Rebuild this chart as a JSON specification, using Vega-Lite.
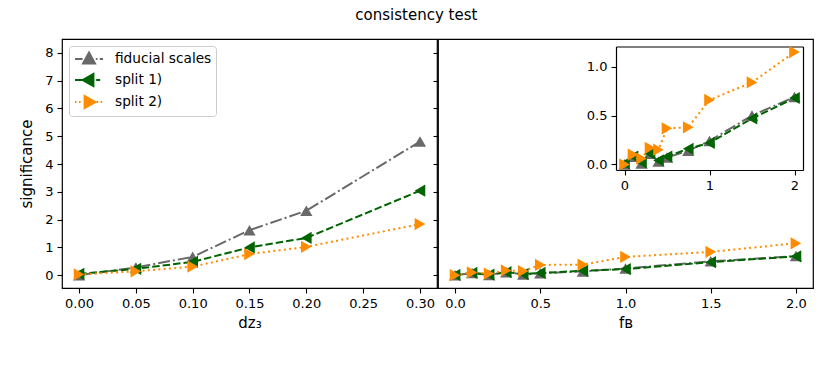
{
  "$schema": "https://vega.github.io/schema/vega-lite/v6.json",
  "padding": {"left": 19, "top": 8, "right": 5, "bottom": 5},
  "title": {"text": "consistency test", "fontSize": 15, "fontWeight": "normal", "font": "DejaVu Sans", "anchor": "middle", "offset": 15, "color": "black"},
  "config": {
    "font": "DejaVu Sans",
    "view": {"stroke": "black", "strokeWidth": 1.2},
    "axis": {"domain": false, "grid": false, "tickColor": "black", "tickSize": 5, "tickWidth": 1.1, "labelFontSize": 13, "labelColor": "black", "titleFontSize": 15, "titleFontWeight": "normal", "titleColor": "black", "labelPadding": 4}
  },
  "datasets": {
    "c": [
      {"series": "fiducial scales", "x": 0.0, "y": 0.0},
      {"series": "fiducial scales", "x": 0.05, "y": 0.28},
      {"series": "fiducial scales", "x": 0.1, "y": 0.66},
      {"series": "fiducial scales", "x": 0.15, "y": 1.62},
      {"series": "fiducial scales", "x": 0.2, "y": 2.32},
      {"series": "fiducial scales", "x": 0.3, "y": 4.81},
      {"series": "split 1)", "x": 0.0, "y": 0.05},
      {"series": "split 1)", "x": 0.05, "y": 0.23},
      {"series": "split 1)", "x": 0.1, "y": 0.48},
      {"series": "split 1)", "x": 0.15, "y": 1.0},
      {"series": "split 1)", "x": 0.2, "y": 1.34},
      {"series": "split 1)", "x": 0.3, "y": 3.04},
      {"series": "split 2)", "x": 0.0, "y": 0.03},
      {"series": "split 2)", "x": 0.05, "y": 0.14},
      {"series": "split 2)", "x": 0.1, "y": 0.31},
      {"series": "split 2)", "x": 0.15, "y": 0.76},
      {"series": "split 2)", "x": 0.2, "y": 1.02},
      {"series": "split 2)", "x": 0.3, "y": 1.84}
    ],
    "d": [
      {"series": "fiducial scales", "x": 0.0, "y": 0.0},
      {"series": "fiducial scales", "x": 0.1, "y": 0.08},
      {"series": "fiducial scales", "x": 0.2, "y": 0.01},
      {"series": "fiducial scales", "x": 0.3, "y": 0.11},
      {"series": "fiducial scales", "x": 0.4, "y": 0.03},
      {"series": "fiducial scales", "x": 0.5, "y": 0.07},
      {"series": "fiducial scales", "x": 0.75, "y": 0.14},
      {"series": "fiducial scales", "x": 1.0, "y": 0.24},
      {"series": "fiducial scales", "x": 1.5, "y": 0.5},
      {"series": "fiducial scales", "x": 2.0, "y": 0.69},
      {"series": "split 1)", "x": 0.0, "y": 0.01},
      {"series": "split 1)", "x": 0.1, "y": 0.08},
      {"series": "split 1)", "x": 0.2, "y": 0.02},
      {"series": "split 1)", "x": 0.3, "y": 0.11},
      {"series": "split 1)", "x": 0.4, "y": 0.04},
      {"series": "split 1)", "x": 0.5, "y": 0.08},
      {"series": "split 1)", "x": 0.75, "y": 0.16},
      {"series": "split 1)", "x": 1.0, "y": 0.22},
      {"series": "split 1)", "x": 1.5, "y": 0.47},
      {"series": "split 1)", "x": 2.0, "y": 0.68},
      {"series": "split 2)", "x": 0.0, "y": 0.0},
      {"series": "split 2)", "x": 0.1, "y": 0.1},
      {"series": "split 2)", "x": 0.2, "y": 0.06},
      {"series": "split 2)", "x": 0.3, "y": 0.17},
      {"series": "split 2)", "x": 0.4, "y": 0.15},
      {"series": "split 2)", "x": 0.5, "y": 0.37},
      {"series": "split 2)", "x": 0.75, "y": 0.38},
      {"series": "split 2)", "x": 1.0, "y": 0.66},
      {"series": "split 2)", "x": 1.5, "y": 0.84},
      {"series": "split 2)", "x": 2.0, "y": 1.15}
    ]
  },
  "spacing": -7,
  "resolve": {"scale": {"color": "independent", "shape": "independent", "strokeDash": "independent"}},
  "hconcat": [
    {
      "width": 375,
      "height": 249,
      "data": {"name": "c"},
      "encoding": {
        "x": {"field": "x", "type": "quantitative", "scale": {"domain": [-0.015, 0.315], "nice": false, "zero": false}, "axis": {"values": [0, 0.05, 0.1, 0.15, 0.2, 0.25, 0.3], "format": ".2f", "title": "dz₃", "titlePadding": 5}},
        "y": {"field": "y", "type": "quantitative", "scale": {"domain": [-0.46, 8.5], "nice": false, "zero": false}, "axis": {"values": [0, 1, 2, 3, 4, 5, 6, 7, 8], "title": "significance", "titlePadding": 10}},
        "color": {"field": "series", "type": "nominal", "scale": {"domain": ["fiducial scales", "split 1)", "split 2)"], "range": ["#696969", "#006400", "#ff8c00"]}, "legend": null}
      },
      "resolve": {"scale": {"shape": "independent", "fill": "independent", "stroke": "independent"}},
      "layer": [
        {"mark": {"type": "line", "strokeWidth": 2}, "encoding": {"strokeDash": {"field": "series", "type": "nominal", "scale": {"domain": ["fiducial scales", "split 1)", "split 2)"], "range": [[12, 3, 2, 3], [7.5, 3], [2, 3.3]]}, "legend": null}}},
        {"mark": {"type": "point", "filled": true, "size": 150, "opacity": 1}, "encoding": {"shape": {"field": "series", "type": "nominal", "scale": {"domain": ["fiducial scales", "split 1)", "split 2)"], "range": ["triangle-up", "triangle-left", "triangle-right"]}, "legend": null}}},
        {"data": {"values": [{"label": "c)"}]}, "mark": {"type": "text", "fontSize": 14, "align": "center", "baseline": "middle"}, "encoding": {"x": {"datum": 0.2646}, "y": {"datum": 7.35}, "text": {"field": "label"}, "color": {"value": "black"}}},
        {
          "transform": [{"filter": "datum.x > 10"}],
          "mark": {"type": "point", "filled": true, "opacity": 1, "size": 256},
          "encoding": {
            "shape": {"field": "series", "type": "nominal", "scale": {"domain": ["fiducial scales", "split 1)", "split 2)"], "range": ["M-1.75,0H-0.8M0.85,0H1.05M1.35,0H1.75M0,-0.8L0.75,0.55L-0.75,0.55Z", "M-1.75,0H-0.7M0.9,0H1.4M-0.8,0L0.55,-0.75L0.55,0.75Z", "M-1.75,0H-1.55M-1.25,0H-1.05M0.95,0H1.15M1.45,0H1.65M0.8,0L-0.55,-0.75L-0.55,0.75Z"]},
              "legend": {"title": null, "orient": "top-left", "offset": 7, "labelFontSize": 13.7, "labelColor": "black", "symbolSize": 256, "symbolOffset": 7, "labelOffset": 17, "rowPadding": 2, "padding": 4, "strokeColor": "#cccccc", "fillColor": "white", "cornerRadius": 3, "symbolStrokeWidth": 2, "symbolOpacity": 1}},
            "fill": {"field": "series", "type": "nominal", "scale": {"domain": ["fiducial scales", "split 1)", "split 2)"], "range": ["#696969", "#006400", "#ff8c00"]},
              "legend": {"title": null, "orient": "top-left", "offset": 7, "labelFontSize": 13.7, "labelColor": "black", "symbolSize": 256, "symbolOffset": 7, "labelOffset": 17, "rowPadding": 2, "padding": 4, "strokeColor": "#cccccc", "fillColor": "white", "cornerRadius": 3, "symbolStrokeWidth": 2, "symbolOpacity": 1}},
            "stroke": {"field": "series", "type": "nominal", "scale": {"domain": ["fiducial scales", "split 1)", "split 2)"], "range": ["#696969", "#006400", "#ff8c00"]},
              "legend": {"title": null, "orient": "top-left", "offset": 7, "labelFontSize": 13.7, "labelColor": "black", "symbolSize": 256, "symbolOffset": 7, "labelOffset": 17, "rowPadding": 2, "padding": 4, "strokeColor": "#cccccc", "fillColor": "white", "cornerRadius": 3, "symbolStrokeWidth": 2, "symbolOpacity": 1}}
          }
        }
      ]
    },
    {
      "width": 375,
      "height": 249,
      "data": {"name": "d"},
      "resolve": {"scale": {"x": "independent", "y": "independent"}, "axis": {"x": "independent", "y": "independent"}},
      "layer": [
        {
          "encoding": {
            "x": {"field": "x", "type": "quantitative", "scale": {"domain": [-0.1, 2.1], "nice": false, "zero": false}, "axis": {"orient": "bottom", "values": [0, 0.5, 1, 1.5, 2], "format": ".1f", "title": "fʙ", "titlePadding": 5}},
            "y": {"field": "y", "type": "quantitative", "scale": {"domain": [-0.46, 8.5], "nice": false, "zero": false}, "axis": {"orient": "left", "values": [0, 1, 2, 3, 4, 5, 6, 7, 8], "labels": false, "title": null}},
            "color": {"field": "series", "type": "nominal", "scale": {"domain": ["fiducial scales", "split 1)", "split 2)"], "range": ["#696969", "#006400", "#ff8c00"]}, "legend": null}
          },
          "layer": [
            {"mark": {"type": "line", "strokeWidth": 2}, "encoding": {"strokeDash": {"field": "series", "type": "nominal", "scale": {"domain": ["fiducial scales", "split 1)", "split 2)"], "range": [[12, 3, 2, 3], [7.5, 3], [2, 3.3]]}, "legend": null}}},
            {"mark": {"type": "point", "filled": true, "size": 150, "opacity": 1}, "encoding": {"shape": {"field": "series", "type": "nominal", "scale": {"domain": ["fiducial scales", "split 1)", "split 2)"], "range": ["triangle-up", "triangle-left", "triangle-right"]}, "legend": null}}},
            {"data": {"values": [{"label": "d)"}]}, "mark": {"type": "text", "fontSize": 14, "align": "center", "baseline": "middle"}, "encoding": {"x": {"datum": 0.225}, "y": {"datum": 7.35}, "text": {"field": "label"}, "color": {"value": "black"}}}
          ]
        },
        {
          "transform": [{"filter": "datum.x > 10"}],
          "mark": {"type": "point"},
          "encoding": {
            "x": {"field": "x", "type": "quantitative", "scale": {"domain": [-0.1, 2.1], "range": [178, 365], "nice": false, "zero": false}, "axis": {"orient": "top", "offset": -7.5, "domain": true, "domainColor": "black", "domainWidth": 1.2, "ticks": false, "labels": false, "title": null}},
            "y": {"field": "y", "type": "quantitative", "scale": {"domain": [-0.0575, 1.2075], "range": [131, 7.5], "nice": false, "zero": false}, "axis": {"orient": "right", "offset": -10, "domain": true, "domainColor": "black", "domainWidth": 1.2, "ticks": false, "labels": false, "title": null}}
          }
        },
        {
          "encoding": {
            "x": {"field": "x", "type": "quantitative", "scale": {"domain": [-0.1, 2.1], "range": [178, 365], "nice": false, "zero": false}, "axis": {"orient": "bottom", "offset": -118, "values": [0, 1, 2], "format": "d", "title": null, "domain": true, "domainColor": "black", "domainWidth": 1.2}},
            "y": {"field": "y", "type": "quantitative", "scale": {"domain": [-0.0575, 1.2075], "range": [131, 7.5], "nice": false, "zero": false}, "axis": {"orient": "left", "offset": -178, "values": [0, 0.5, 1], "format": ".1f", "title": null, "domain": true, "domainColor": "black", "domainWidth": 1.2}},
            "color": {"field": "series", "type": "nominal", "scale": {"domain": ["fiducial scales", "split 1)", "split 2)"], "range": ["#696969", "#006400", "#ff8c00"]}, "legend": null}
          },
          "layer": [
            {"mark": {"type": "line", "strokeWidth": 2}, "encoding": {"strokeDash": {"field": "series", "type": "nominal", "scale": {"domain": ["fiducial scales", "split 1)", "split 2)"], "range": [[12, 3, 2, 3], [7.5, 3], [2, 3.3]]}, "legend": null}}},
            {"mark": {"type": "point", "filled": true, "size": 150, "opacity": 1}, "encoding": {"shape": {"field": "series", "type": "nominal", "scale": {"domain": ["fiducial scales", "split 1)", "split 2)"], "range": ["triangle-up", "triangle-left", "triangle-right"]}, "legend": null}}}
          ]
        }
      ]
    }
  ]
}
